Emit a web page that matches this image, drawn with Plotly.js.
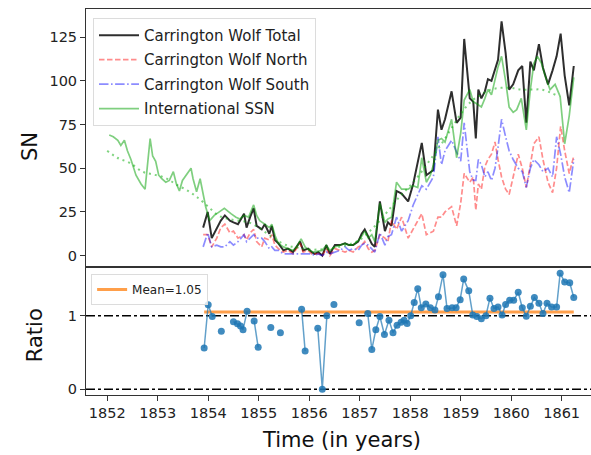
<!DOCTYPE html>
<html>
<head>
<meta charset="utf-8">
<script src="https://cdn.plot.ly/plotly-3.0.1.min.js"></script>
<style>
  html, body { margin: 0; padding: 0; overflow: hidden; background: #fff; }
  #chart { width: 600px; height: 455px; }
</style>
</head>
<body>
<div id="chart"></div>
<script>
// International sunspot number (monthly)
const ssnYears = [1852.04,1852.12,1852.21,1852.27,1852.34,1852.40,1852.47,1852.57,1852.67,1852.75,1852.85,1852.90,1852.96,
  1853.02,1853.08,1853.16,1853.23,1853.31,1853.37,1853.43,1853.49,1853.56,1853.66,1853.70,1853.77,1853.84,1853.89,1853.95,
  1854.03,1854.12,1854.22,1854.32,1854.45,1854.55,1854.63,1854.71,1854.80,1854.90,1854.96,
  1855.02,1855.12,1855.21,1855.26,1855.33,1855.39,1855.49,1855.58,1855.68,1855.75,1855.84,1855.92,
  1856.00,1856.08,1856.17,1856.26,1856.34,1856.41,1856.51,1856.61,1856.71,1856.79,1856.87,1856.97,
  1857.04,1857.10,1857.17,1857.24,1857.30,1857.40,1857.50,1857.56,1857.63,1857.73,1857.83,1857.96,
  1858.06,1858.15,1858.23,1858.32,1858.40,1858.46,1858.55,1858.62,1858.69,1858.82,1858.92,
  1859.00,1859.07,1859.18,1859.25,1859.31,1859.41,1859.48,1859.54,1859.61,1859.68,1859.74,1859.81,1859.89,1859.96,
  1860.04,1860.11,1860.20,1860.30,1860.38,1860.45,1860.52,1860.60,1860.67,1860.77,1860.87,1860.97,
  1861.06,1861.15,1861.24];
const ssn = [69,68,66,63,66,60,55,46,41,38,67,57,54,
  46,44,42,43,48,41,37,43,46,50,44,36.5,44,37,28,
  20,23,25,27,24,22,21,23,22,29,23,
  20,18,16,18,11,7,5,4,3,5,9.6,5,
  3,2,2.5,3,6,3,5,6,7,6,6,8.5,
  11,14,10,12,8,30,19,21,22,42,38,38,
  40,39,56,42,46,52,66,67,65,78,56,
  70,89,95,88,87,85,90,95,92,100,108,114,100,85,
  82,83.5,90,72,95,110,114,110,103,95,98,91,
  64,80,102];

// Smoothed international sunspot number
const smoothYears = [1852.0,1852.2,1852.45,1852.7,1852.9,1853.15,1853.35,1853.6,1853.8,1854.0,1854.2,1854.4,1854.6,1854.8,
  1855.0,1855.2,1855.4,1855.6,1855.8,1856.0,1856.2,1856.4,1856.6,1856.8,1857.0,1857.2,1857.4,1857.6,1857.8,
  1858.0,1858.2,1858.4,1858.6,1858.8,1859.0,1859.2,1859.4,1859.6,1859.8,1860.0,1860.2,1860.4,1860.6,1860.8,1860.95];
const ssnSmooth = [60,56,53,48,46.5,44.5,41,37,33,28,23,21,20,19,
  16,12,8,5.5,4.5,3.5,3.5,4,5,6.5,9,14,20,27,34,
  40,47,55,63,72,81,88,92,95,96,96,95,95,95,93,91];

// Carrington's Wolf numbers: total, northern and southern hemispheres
const cwYears = [1853.90,1853.99,1854.07,1854.17,1854.25,1854.33,1854.43,1854.50,1854.59,1854.71,1854.76,1854.83,1854.90,1854.96,
  1855.06,1855.12,1855.21,1855.26,1855.32,1855.39,1855.49,1855.58,1855.68,1855.82,1855.88,1855.98,
  1856.05,1856.11,1856.18,1856.26,1856.34,1856.41,1856.51,1856.61,1856.71,1856.79,1856.87,1856.97,
  1857.04,1857.10,1857.17,1857.24,1857.30,1857.40,1857.50,1857.56,1857.63,1857.73,1857.83,1857.96,
  1858.06,1858.23,1858.32,1858.46,1858.55,1858.62,1858.69,1858.82,1858.92,
  1859.00,1859.07,1859.18,1859.25,1859.30,1859.35,1859.41,1859.48,1859.54,1859.61,1859.68,1859.74,1859.81,1859.89,1859.96,
  1860.04,1860.14,1860.22,1860.30,1860.38,1860.45,1860.55,1860.63,1860.73,1860.82,1860.90,1860.98,
  1861.06,1861.15,1861.24];
const cwTotal = [16,25,10,16,20,23,20,19,18,24,16,22,27,17,
  15,18,12.5,17,9,7,3,4,2,8,3,4,
  2,1,2,0,6,1,6,6,7,6,6,8,
  12.5,15,10.5,6.7,5,31,14,19,17,37,35.5,31,
  41,64.5,46,49,83.5,72,78,94,76,
  79,124,90,88,67,95,90,94,101,100,106,112,134,116,95,
  98,106,108.5,76,111,106,121,107.5,98,106,114,127,
  103,86,108.5];
const cwNorth = [12,12,5,10,16,18,13,14,10,12,9,13,15,8,
  5,10,9,12,6,4,2,3,1,7,2,3,
  1,1,1,0,4,0,4,3,2,3,2,5,
  6,8,4,2,3,12,10,8,20,15,22,10,
  15,24,12,14,22,22,25,28,17,
  30,47,42,45,26,41,38,51,55,58,65,55,45,38,35,
  45,58,50,39,52,64,68,55,42,36,50,74,
  60,47,57];
const cwSouth = [5,13,5,6,5,5,8,6,8,12,8,10,12,10,
  10,8,4,5,3,3,1,1,1,1,1,1,
  1,0,1,0,2,1,2,3,5,3,4,3,
  6,7,6,4,2,13,6,11,12,22,14,20,
  29,40,38,45,68,52,60,66,59,
  54,76,48,43,43,55,52,45,48,43,50,62,78,68,60,
  55,50,48,39,50,55,52,48,50,45,68,58,
  45,36,55];

// Ratio of Carrington total to the international number (null = no value)
const ratioYears = [1853.92,1854.00,1854.08,null,1854.26,null,1854.50,1854.58,1854.64,1854.69,1854.77,null,
  1854.91,1854.99,null,1855.24,null,1855.43,null,1855.85,1855.92,null,1856.17,1856.26,1856.35,null,
  1856.49,null,1856.99,null,
  1857.16,1857.24,1857.32,1857.40,1857.49,1857.58,1857.66,1857.74,1857.82,1857.88,1857.94,
  1858.01,1858.08,1858.15,1858.22,1858.31,1858.40,1858.49,1858.56,1858.65,1858.73,1858.83,1858.91,1858.99,
  1859.06,1859.16,1859.24,1859.32,1859.41,1859.50,1859.58,1859.66,1859.74,1859.82,1859.89,1859.97,
  1860.05,1860.14,1860.22,1860.30,1860.38,1860.46,1860.55,1860.63,1860.71,1860.80,1860.90,1860.97,
  1861.06,1861.16,1861.24];
const ratio = [0.56,1.15,0.99,null,0.79,null,0.92,0.89,0.86,0.81,1.06,null,
  0.93,0.57,null,0.84,null,0.77,null,1.09,0.52,null,0.83,0.0,1.0,null,
  1.155,null,0.905,null,
  1.03,0.54,0.81,0.99,0.745,0.94,0.77,0.87,0.91,0.94,0.895,
  1.0,1.18,1.37,1.11,1.16,1.11,1.08,1.26,1.56,1.10,1.11,1.11,1.22,
  1.50,1.34,1.01,0.99,0.96,1.0,1.24,1.10,1.12,1.01,1.155,1.21,
  1.21,1.32,1.11,0.995,1.13,1.25,1.17,1.03,1.17,1.12,1.12,1.58,
  1.46,1.45,1.25];
const meanRatio = 1.05;

const yearTicks = [1852,1853,1854,1855,1856,1857,1858,1859,1860,1861];
const snTicks = [0,25,50,75,100,125];
const ratioTicks = [0,1];

const FONT = 'DejaVu Sans';
const AX = '#333';

const validYears = ratioYears.filter(v => v !== null);

const traces = [
  { x: cwYears, y: cwTotal, xaxis: 'x2', yaxis: 'y', mode: 'lines', name: 'Carrington Wolf Total',
    legendgroup: 'a', line: { color: 'rgba(0,0,0,0.82)', width: 2 } },
  { x: cwYears, y: cwNorth, xaxis: 'x2', yaxis: 'y', mode: 'lines', name: 'Carrington Wolf North',
    legendgroup: 'b', line: { color: 'rgba(255,0,0,0.45)', width: 1.7, dash: '5.5px,2.5px' } },
  { x: cwYears, y: cwSouth, xaxis: 'x2', yaxis: 'y', mode: 'lines', name: 'Carrington Wolf South',
    legendgroup: 'c', line: { color: 'rgba(0,0,255,0.45)', width: 1.7, dash: '9.5px,2.5px,1.6px,2.5px' } },
  { x: ssnYears, y: ssn, xaxis: 'x2', yaxis: 'y', mode: 'lines', name: 'International SSN',
    legendgroup: 'd', line: { color: 'rgba(0,160,0,0.5)', width: 1.7 } },
  { x: smoothYears, y: ssnSmooth, xaxis: 'x2', yaxis: 'y', mode: 'lines', showlegend: false,
    line: { color: 'rgba(0,170,0,0.5)', width: 2, dash: '2px,4px', shape: 'spline' } },
  { x: [validYears[0], validYears[validYears.length - 1]], y: [meanRatio, meanRatio],
    xaxis: 'x', yaxis: 'y2', mode: 'lines', name: 'Mean=' + meanRatio.toFixed(2), legend: 'legend2',
    line: { color: 'rgba(255,127,14,0.75)', width: 3 } },
  { x: ratioYears, y: ratio, xaxis: 'x', yaxis: 'y2', mode: 'lines+markers', showlegend: false,
    connectgaps: false,
    line: { color: 'rgba(31,119,180,0.7)', width: 1.5 },
    marker: { color: 'rgba(31,119,180,0.85)', size: 7 } }
];

const axisBase = {
  showline: true, mirror: true, linecolor: AX, linewidth: 1,
  showgrid: false, zeroline: false,
  ticks: 'outside', ticklen: 5, tickwidth: 1, tickcolor: AX,
  tickfont: { family: FONT, size: 14.5, color: '#222' }
};

const layout = {
  width: 600, height: 455,
  margin: { l: 86, r: 3, t: 9, b: 60 },
  paper_bgcolor: '#fff', plot_bgcolor: '#fff',
  font: { family: FONT, size: 14.5, color: '#222' },
  xaxis: Object.assign({}, axisBase, { anchor: 'y2', range: [1851.58, 1861.70], tickvals: yearTicks }),
  xaxis2: Object.assign({}, axisBase, { anchor: 'y', matches: 'x', showticklabels: false, ticks: '' }),
  yaxis: Object.assign({}, axisBase, { domain: [0.3307, 1], anchor: 'x2', range: [-6.72, 141.12], tickvals: snTicks }),
  yaxis2: Object.assign({}, axisBase, { domain: [0, 0.3307], anchor: 'x', range: [-0.08, 1.66], tickvals: ratioTicks }),
  shapes: ratioTicks.map(v => ({
    type: 'line', xref: 'paper', x0: 0, x1: 1, yref: 'y2', y0: v, y1: v, layer: 'below',
    line: { color: '#000', width: 1.5, dash: 'dashdot' }
  })),
  legend: {
    x: 0.0137, y: 0.977, xanchor: 'left', yanchor: 'top',
    bgcolor: 'rgba(255,255,255,0.8)', bordercolor: '#dcdcdc', borderwidth: 1,
    font: { family: FONT, size: 15, color: '#222' }, tracegroupgap: 2, itemwidth: 40
  },
  legend2: {
    x: 0.01, y: 0.3135, xanchor: 'left', yanchor: 'top',
    bgcolor: 'rgba(255,255,255,0.8)', bordercolor: '#dcdcdc', borderwidth: 1,
    font: { family: FONT, size: 12, color: '#222' }, itemwidth: 30
  },
  annotations: [
    { text: 'SN', xref: 'paper', yref: 'paper', x: -0.1096, y: 0.645, textangle: -90,
      showarrow: false, xanchor: 'center', yanchor: 'middle', font: { family: FONT, size: 21, color: '#111' } },
    { text: 'Ratio', xref: 'paper', yref: 'paper', x: -0.0998, y: 0.155, textangle: -90,
      showarrow: false, xanchor: 'center', yanchor: 'middle', font: { family: FONT, size: 21, color: '#111' } },
    { text: 'Time (in years)', xref: 'paper', yref: 'paper', x: 0.5, y: -0.1166,
      showarrow: false, xanchor: 'center', yanchor: 'middle', font: { family: FONT, size: 21, color: '#111' } }
  ]
};

Plotly.newPlot('chart', traces, layout, { staticPlot: true, displayModeBar: false });
</script>
</body>
</html>
